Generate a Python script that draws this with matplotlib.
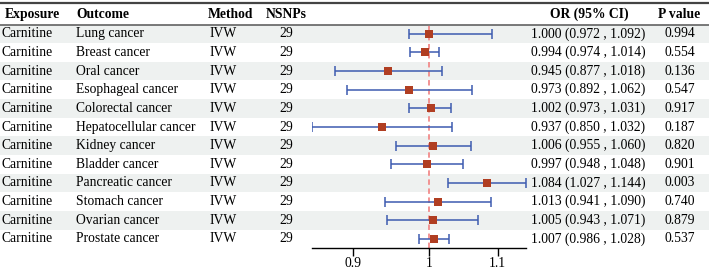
import numpy as np
import matplotlib
matplotlib.use("Agg")
import matplotlib.pyplot as plt

plt.rcParams['font.family'] = ['Liberation Serif', 'DejaVu Serif']

exposure = ["Carnitine"] * 12
outcomes = ["Lung cancer", "Breast cancer", "Oral cancer", "Esophageal cancer",
            "Colorectal cancer", "Hepatocellular cancer", "Kidney cancer",
            "Bladder cancer", "Pancreatic cancer", "Stomach cancer",
            "Ovarian cancer", "Prostate cancer"]
method = ["IVW"] * 12
nsnps = [29] * 12
or_est = [1.000, 0.994, 0.945, 0.973, 1.002, 0.937, 1.006, 0.997, 1.084, 1.013, 1.005, 1.007]
ci_low = [0.972, 0.974, 0.877, 0.892, 0.973, 0.850, 0.955, 0.948, 1.027, 0.941, 0.943, 0.986]
ci_high = [1.092, 1.014, 1.018, 1.062, 1.031, 1.032, 1.060, 1.048, 1.144, 1.090, 1.071, 1.028]
pvals = ["0.994", "0.554", "0.136", "0.547", "0.917", "0.187",
         "0.820", "0.901", "0.003", "0.740", "0.879", "0.537"]
xticks = [0.9, 1, 1.1]
xtick_labels = ["0.9", "1", "1.1"]

W, H = 709, 271
fig = plt.figure(figsize=(W / 100, H / 100), dpi=100)

# background axes: rows vertically, pixels horizontally
top_px, row_h = 24.5, 18.64
n = len(outcomes)
y_top = -0.5 - top_px / row_h
y_bot = n - 0.5 + (H - top_px - n * row_h) / row_h
bg = fig.add_axes([0, 0, 1, 1])
bg.set_xlim(0, W)
bg.set_ylim(y_bot, y_top)
bg.axis('off')

fs = 9.8
for i in range(n):
    if i % 2 == 0:
        bg.axhspan(i - 0.5, i + 0.5, color='#eef1f0', lw=0, zorder=0)
    bg.text(2, i, exposure[i], ha='left', va='center', fontsize=fs)
    bg.text(76, i, outcomes[i], ha='left', va='center', fontsize=fs)
    bg.text(223, i, method[i], ha='center', va='center', fontsize=fs)
    bg.text(286, i, str(nsnps[i]), ha='center', va='center', fontsize=fs)
    bg.text(588, i, f"{or_est[i]:.3f} ({ci_low[i]:.3f} , {ci_high[i]:.3f})",
            ha='center', va='center', fontsize=fs)
    bg.text(680, i, pvals[i], ha='center', va='center', fontsize=fs)

hy = -1.0 - 0.03
bg.text(5, hy, "Exposure", ha='left', va='center', fontsize=fs, fontweight='bold')
bg.text(76, hy, "Outcome", ha='left', va='center', fontsize=fs, fontweight='bold')
bg.text(230, hy, "Method", ha='center', va='center', fontsize=fs, fontweight='bold')
bg.text(286, hy, "NSNPs", ha='center', va='center', fontsize=fs, fontweight='bold')
bg.text(589, hy, "OR (95% CI)", ha='center', va='center', fontsize=fs, fontweight='bold')
bg.text(679, hy, "P value", ha='center', va='center', fontsize=fs, fontweight='bold')

bg.axhline(y_top + 2.5 / row_h, color='#444444', lw=1.6)
bg.axhline(-0.5, color='#555555', lw=1.1)

# forest axes (log scale)
x0, x1 = 312, 526
ax = fig.add_axes([x0 / W, (H - top_px - n * row_h) / H, (x1 - x0) / W, n * row_h / H])
ax.patch.set_alpha(0)
ax.set_xscale('log')
ax.set_xlim(min(ci_low), max(ci_high))
ax.set_ylim(n - 0.5, -0.5)
ys = np.arange(n)
ax.axvline(1, color='#f28a8a', lw=1.3, ls=(0, (3, 2)), zorder=1)
ax.errorbar(or_est, ys, xerr=[np.array(or_est) - np.array(ci_low), np.array(ci_high) - np.array(or_est)],
            fmt='none', ecolor='#3d5bb0', elinewidth=1.1, capsize=3.3, capthick=1.1, zorder=2)
ax.plot(or_est, ys, 's', color='#b03e22', ms=5.2, mew=0, zorder=3)
for s in ['top', 'right', 'left']:
    ax.spines[s].set_visible(False)
ax.spines['bottom'].set_linewidth(1.0)
ax.set_yticks([])
ax.xaxis.set_minor_locator(matplotlib.ticker.NullLocator())
ax.set_xticks(xticks)
ax.set_xticklabels(xtick_labels, fontsize=fs)
ax.tick_params(axis='x', length=5.5, width=1.0, pad=1.2)

fig.savefig("out.png", dpi=100)
